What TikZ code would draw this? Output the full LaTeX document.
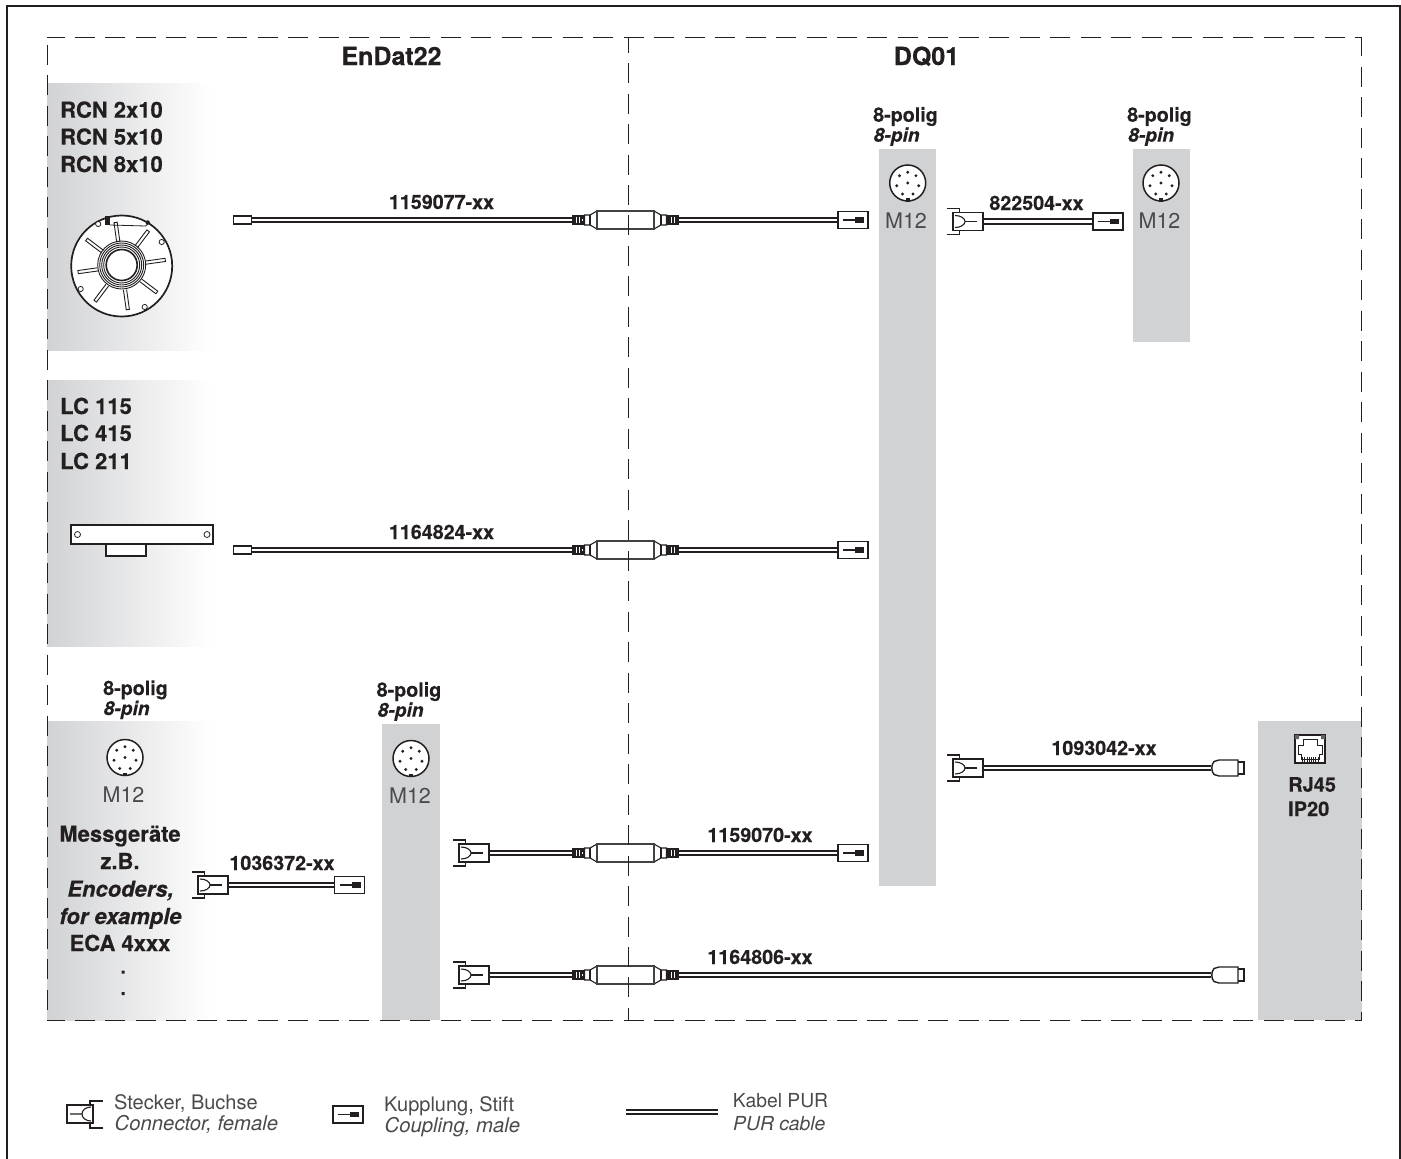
\documentclass[tikz,border=0pt]{standalone}
\usepackage{fontspec}
\setmainfont{TeX Gyre Heros}[BoldFeatures={FakeBold=0.35},BoldItalicFeatures={FakeBold=0.35}]
\definecolor{ink}{HTML}{231F20}
\definecolor{panel}{HTML}{D1D2D4}
\definecolor{lighttext}{HTML}{4A4A4C}
\tikzset{
  frameln/.style={draw=ink,line width=1pt,dash pattern=on 20pt off 10.48pt},
  cable/.style={draw=ink,line width=1.9pt,double=white,double distance=2.4pt},
  panelbar/.style={fill=panel,draw=none},
  panelfade/.style={left color=panel,right color=white,draw=none},
  boxline/.style={draw=ink,line width=1.6pt,fill=white,inner sep=0pt,minimum width=30pt,minimum height=17pt},
  ferrule/.style={draw=ink,line width=1.6pt,fill=white,inner sep=0pt,minimum width=18pt,minimum height=8.5pt},
  modbody/.style={draw=ink!85,line width=1.1pt,fill=white,inner sep=0pt,minimum width=57pt,minimum height=18pt},
  thinln/.style={draw=ink,line width=1.1pt},
  heavy/.style={font=\fontsize{19.7}{22}\selectfont\bfseries,text=ink,inner sep=0pt},
  heavyit/.style={font=\fontsize{19.2}{22}\selectfont\bfseries\itshape,text=ink,inner sep=0pt},
  nametext/.style={font=\fontsize{22}{24}\selectfont\bfseries,text=ink,inner sep=0pt},
  nameit/.style={font=\fontsize{22}{24}\selectfont\bfseries\itshape,text=ink,inner sep=0pt},
  headtext/.style={font=\fontsize{25}{26}\selectfont\bfseries,text=ink,inner sep=0pt},
  soft/.style={font=\fontsize{20}{22}\selectfont,text=lighttext,inner sep=0pt},
  softit/.style={font=\fontsize{20.3}{22}\selectfont\itshape,text=lighttext,inner sep=0pt},
  msoft/.style={font=\fontsize{21.5}{22}\selectfont,text=lighttext,inner sep=0pt},
}
% coupling, male: name, centre x, y
\newcommand\couplingmale[3]{%
  \node[boxline] (#1) at (#2,#3) {};
  \draw[thinln] (#2-10,#3) -- (#2+2,#3);
  \fill[ink] (#2+2,#3-2.6) rectangle (#2+11,#3+2.6);}
% connector, female: name, flange left x, y
\newcommand\connfemale[3]{%
  \node[boxline,minimum height=18pt] (#1) at (#2+21,#3) {};
  \draw[thinln,line width=1.4pt] (#2,#3-13) -- (#2+12.5,#3-13) -- (#2+12.5,#3-9);
  \draw[thinln,line width=1.4pt] (#2,#3+13) -- (#2+12.5,#3+13) -- (#2+12.5,#3+9);
  \draw[thinln] (#2+8,#3-6) .. controls (#2+14,#3-6) and (#2+18,#3-3) .. (#2+18,#3) .. controls (#2+18,#3+3) and (#2+14,#3+6) .. (#2+8,#3+6);
  \draw[thinln] (#2+18,#3) -- (#2+30,#3);}
% inline module: name, centre x, y
\newcommand\inlinemod[3]{%
  \draw[thinln,fill=white] (#2-28.5,#3-9) -- (#2-35.5,#3-5) -- (#2-41,#3-5) -- (#2-41,#3+5) -- (#2-35.5,#3+5) -- (#2-28.5,#3+9) --cycle;
  \draw[thinln,fill=white] (#2+28.5,#3-9) -- (#2+35.5,#3-5) -- (#2+41,#3-5) -- (#2+41,#3+5) -- (#2+35.5,#3+5) -- (#2+28.5,#3+9) --cycle;
  \draw[thinln] (#2-35.5,#3-5) -- (#2-35.5,#3+5) (#2+35.5,#3-5) -- (#2+35.5,#3+5);
  \fill[ink] (#2-53.5,#3-5) rectangle (#2-41,#3+5);
  \fill[ink] (#2+41,#3-5) rectangle (#2+53.5,#3+5);
  \draw[white,line width=.5pt] (#2-49,#3-3) -- (#2-49,#3+3) (#2-46,#3-3) -- (#2-46,#3+3) (#2-43.5,#3-1) -- (#2-43.5,#3+1) (#2+46,#3-3) -- (#2+46,#3+3) (#2+49,#3-3) -- (#2+49,#3+3);
  \node[modbody] (#1) at (#2,#3) {};
  \coordinate (#1L) at (#2-53.5,#3);
  \coordinate (#1R) at (#2+53.5,#3);}
% RJ45 plug: name, left x, y
\newcommand\termplug[3]{%
  \draw[thinln,line width=1.4pt,fill=white] (#2+27,#3-6) -- (#2+33,#3-6) -- (#2+33,#3+6) -- (#2+27,#3+6);
  \draw[thinln,line width=1.4pt,fill=white] (#2+3,#3-6.5) -- (#2+8,#3-8) -- (#2+27,#3-8) -- (#2+27,#3+8) -- (#2+8,#3+8) -- (#2+3,#3+6.5) .. controls (#2,#3+3) and (#2,#3-3) .. (#2+3,#3-6.5) -- cycle;
  \coordinate (#1) at (#2,#3);}
% M12 face: name, centre x, y
\newcommand\facemtwelve[3]{%
  \node[circle,draw=ink,line width=1.5pt,fill=white,inner sep=0pt,minimum size=36pt] (#1) at (#2,#3) {};
  \fill[ink] (#2,#3) circle (1.6pt) (#2,#3-10.7) circle (1.6pt) (#2-8.2,#3-7.3) circle (1.6pt) (#2+8.2,#3-7.3) circle (1.6pt)
     (#2-11,#3+2.7) circle (1.6pt) (#2+11,#3+2.7) circle (1.6pt) (#2-5.3,#3+11) circle (1.6pt) (#2+5.3,#3+11) circle (1.6pt);
  \fill[ink] (#2-2,#3+15) rectangle (#2+2,#3+18.5);}
\begin{document}
\begin{tikzpicture}[x=1pt,y=-1pt]
\useasboundingbox (0,0) rectangle (1401,1159);
\fill[white] (0,0) rectangle (1401,1159);
% sheet border
\draw[ink,line width=1.2pt] (7,1159) -- (7,6) -- (1400,6) -- (1400,1159);
% panels
\shade[panelfade] (47,83) rectangle (212,350);
\shade[panelfade] (47,380) rectangle (212,646);
\shade[panelfade] (47,721) rectangle (212,1020);
\fill[panelbar] (879,149) rectangle (936,886);
\fill[panelbar] (1133,149) rectangle (1190,342);
\fill[panelbar] (382,724) rectangle (440,1020);
\fill[panelbar] (1258,721) rectangle (1362,1020);
% headings
\node[headtext,anchor=base] (hEnDat) at (391.5,65) {EnDat22};
\node[headtext,anchor=base] (hDQ) at (926.5,65) {DQ01};
% encoder names
\node[nametext,anchor=base west] (r1) at (60,117.7) {RCN 2x10};
\node[nametext,anchor=base west] (r2) at (60,144.6) {RCN 5x10};
\node[nametext,anchor=base west] (r3) at (60,172) {RCN 8x10};
\node[nametext,anchor=base west] (l1) at (60,414) {LC 115};
\node[nametext,anchor=base west] (l2) at (60,441) {LC 415};
\node[nametext,anchor=base west] (l3) at (60,469) {LC 211};
\node[nametext,anchor=base] (m1) at (120,841.7) {Messgeräte};
\node[nametext,anchor=base] (m2) at (120,869) {z.B.};
\node[nameit,anchor=base] (m3) at (120.5,896.7) {Encoders,};
\node[nameit,anchor=base] (m4) at (120.5,924) {for example};
\node[nametext,anchor=base] (m5) at (120,951) {ECA 4xxx};
\fill[ink] (121.5,970.5) rectangle (124.5,973.5) (121.5,992) rectangle (124.5,995);
% RCN encoder
\begin{scope}[shift={(121.7,266)}]
  \draw[ink,line width=1.7pt,fill=white] (0,0) circle (50.5);
  \foreach \a in {98,143,188,233,278,323,8,53}{
    \begin{scope}[rotate=\a]
      \draw[ink,line width=.9pt,fill=white] (24,-1.6) -- (44,-1.6) -- (44,1.6) -- (24,1.6);
    \end{scope}}
  \draw[ink,line width=.9pt] (0,-1) circle (24) (0,-1) circle (22) (0,-1) circle (20) (0,-1) circle (18);
  \draw[ink,line width=1.6pt] (0,-1) circle (15.5);
  \draw[ink,line width=.8pt] (-12,-41) -- (24,-40) -- (27,-43);
  \fill[ink] (-17,-50) rectangle (-12,-41);
  \fill[ink] (26,-43.5) circle (2.2);
  \foreach \hx/\hy in {-23.5/-42, 40/-24, 23/41, -41/23}
    {\draw[ink,line width=.8pt,fill=white] (\hx,\hy) circle (2.6);}
\end{scope}
% LC encoder
\draw[ink,line width=1.7pt,fill=white] (106,544) rectangle (146,556);
\draw[ink,line width=1.7pt,fill=white] (71,525) rectangle (213,544);
\draw[ink,line width=.8pt] (77.5,534.5) circle (3) (207,534.5) circle (3);
% 8-pin labels
\node[heavy,anchor=base west] (p1) at (873,121.7) {8-polig};
\node[heavyit,anchor=base west] (q1) at (873.5,141.7) {8-pin};
\node[heavy,anchor=base west] (p2) at (1127,121.7) {8-polig};
\node[heavyit,anchor=base west] (q2) at (1128,141.7) {8-pin};
\node[heavy,anchor=base west] (p3) at (103,695) {8-polig};
\node[heavyit,anchor=base west] (q3) at (103.5,715) {8-pin};
\node[heavy,anchor=base west] (p4) at (376.5,696.7) {8-polig};
\node[heavyit,anchor=base west] (q4) at (377.5,716.7) {8-pin};
% M12 faces
\facemtwelve{f1}{907.7}{183}
\facemtwelve{f2}{1161}{183}
\facemtwelve{f3}{125}{757.5}
\facemtwelve{f4}{411}{758.5}
\node[msoft,anchor=base] (t1) at (906,228.5) {M12};
\node[msoft,anchor=base] (t2) at (1159.5,228.5) {M12};
\node[msoft,anchor=base] (t3) at (123.5,802.5) {M12};
\node[msoft,anchor=base] (t4) at (410,803.5) {M12};
% RJ45 socket
\draw[ink,line width=1.1pt,fill=white] (1295,735) rectangle (1325,763);
\draw[ink,line width=.8pt] (1298,754) -- (1298,745) -- (1303,745) -- (1303,739) -- (1317,739) -- (1317,745) -- (1322,745) -- (1322,754) -- (1319,754) -- (1319,759) -- (1301,759) -- (1301,754) -- cycle;
\fill[ink!70] (1295,735) rectangle (1299,739) (1321,735) rectangle (1325,739);
\foreach \k in {1302.5,1304.7,...,1318}{\draw[ink,line width=.7pt] (\k,757) -- (\k,762);}
\node[heavy,font=\fontsize{20}{22}\selectfont\bfseries,anchor=base west] (rj) at (1288,791.7) {RJ45};
\node[heavy,font=\fontsize{20}{22}\selectfont\bfseries,anchor=base west] (ip) at (1288,816) {IP20};
% cable row 1
\node[ferrule] (a1) at (242.5,220) {};
\inlinemod{b1}{625.5}{220}
\couplingmale{c1}{853}{220}
\draw[cable] (a1.east) -- (b1L);
\draw[cable] (b1R) -- (c1.west);
\node[heavy,anchor=base] (n1) at (441.5,209) {1159077-xx};
% cable row 2
\node[ferrule] (a2) at (242.5,550) {};
\inlinemod{b2}{625.5}{550}
\couplingmale{c2}{853}{550}
\draw[cable] (a2.east) -- (b2L);
\draw[cable] (b2R) -- (c2.west);
\node[heavy,anchor=base] (n2) at (441.5,539) {1164824-xx};
% 822504
\connfemale{a3}{947}{221.5}
\couplingmale{c3}{1108}{221.5}
\draw[cable] (a3.east) -- (c3.west);
\node[heavy,anchor=base] (n3) at (1036.5,210) {822504-xx};
% 1093042
\connfemale{a4}{947}{768}
\termplug{c4}{1211}{768}
\draw[cable] (a4.east) -- (c4);
\node[heavy,anchor=base] (n4) at (1104,755) {1093042-xx};
% 1159070
\connfemale{a5}{453}{853}
\inlinemod{b5}{625.5}{853}
\couplingmale{c5}{853}{853}
\draw[cable] (a5.east) -- (b5L);
\draw[cable] (b5R) -- (c5.west);
\node[heavy,anchor=base] (n5) at (760,842) {1159070-xx};
% 1164806
\connfemale{a6}{453}{975}
\inlinemod{b6}{625.5}{975}
\termplug{c6}{1211}{975}
\draw[cable] (a6.east) -- (b6L);
\draw[cable] (b6R) -- (c6);
\node[heavy,anchor=base] (n6) at (760,964) {1164806-xx};
% 1036372
\connfemale{a7}{192}{885}
\couplingmale{c7}{349.5}{885}
\draw[cable] (a7.east) -- (c7.west);
\node[heavy,anchor=base] (n7) at (282,870) {1036372-xx};
% dashed frame
\draw[frameln,dash phase=2.5] (47,37) -- (1362,37);
\draw[frameln,dash phase=2.5] (47,1020) -- (1362,1020);
\draw[frameln,dash phase=22.5] (47,37) -- (47,1020);
\draw[frameln,dash phase=0.6] (1361.5,37) -- (1361.5,1020);
\draw[frameln,line width=.9pt,dash phase=4.4] (628,37) -- (628,1020);
% legend
\draw[ink,line width=1.8pt,fill=white] (67,1105) rectangle (93,1123);
\draw[ink,line width=1.6pt] (103,1101) -- (90,1101) -- (90,1105) (103,1128) -- (90,1128) -- (90,1123);
\draw[ink,line width=1.1pt] (70,1114) -- (82,1114) .. controls (82,1110) and (86,1107) .. (91,1107) (82,1114) .. controls (82,1118) and (86,1121) .. (91,1121);
\node[soft,anchor=base west] (la) at (114,1109) {Stecker, Buchse};
\node[softit,anchor=base west] (lb) at (114.5,1130.5) {Connector, female};
\couplingmale{lc}{348}{1114.5}
\node[soft,anchor=base west] (ld) at (384,1111.7) {Kupplung, Stift};
\node[softit,anchor=base west] (le) at (384.5,1132.7) {Coupling, male};
\coordinate (lf) at (626,1111.7);
\coordinate (lg) at (718,1111.7);
\draw[cable] (lf) -- (lg);
\node[soft,font=\fontsize{19.3}{22}\selectfont,anchor=base west] (lh) at (732.7,1107.7) {Kabel PUR};
\node[softit,font=\fontsize{19.3}{22}\selectfont\itshape,anchor=base west] (li) at (733,1130) {PUR cable};
\end{tikzpicture}
\end{document}
